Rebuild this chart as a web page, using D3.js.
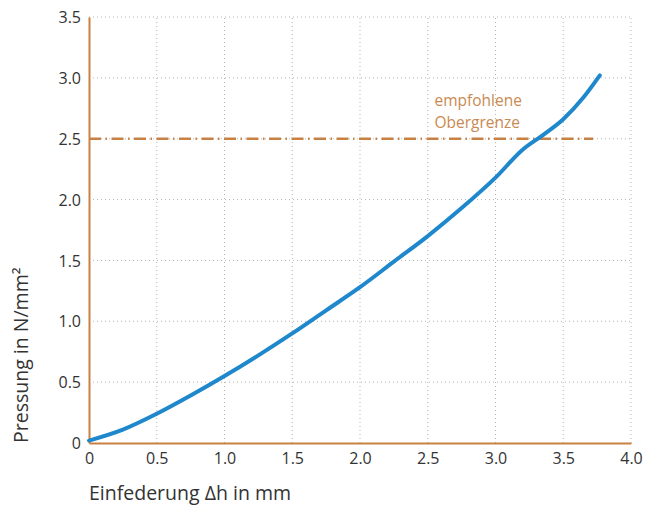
<!DOCTYPE html>
<html>
<head>
<meta charset="utf-8">
<script src="https://cdn.jsdelivr.net/npm/d3@7"></script>
<style>
  body { margin: 0; background: #fff; }
  svg { font-family: "Open Sans", "Noto Sans", sans-serif; }
</style>
</head>
<body>
<div id="chart"></div>
<script>
// Curve readings (Einfederung in mm, Pressung in N/mm²)
const deflection = [0, 0.25, 0.5, 0.75, 1.0, 1.25, 1.5, 1.75, 2.0, 2.25, 2.5, 2.75, 3.0, 3.2, 3.35, 3.5, 3.65, 3.77];
const pressure   = [0.02, 0.11, 0.24, 0.39, 0.55, 0.72, 0.90, 1.09, 1.28, 1.49, 1.70, 1.93, 2.18, 2.41, 2.53, 2.66, 2.84, 3.02];
const xTicks = [0, 0.5, 1.0, 1.5, 2.0, 2.5, 3.0, 3.5, 4.0];
const yTicks = [0, 0.5, 1.0, 1.5, 2.0, 2.5, 3.0, 3.5];
const limit = 2.5;
const limitEnd = 3.72;

const width = 646, height = 509;
const margin = { left: 89, right: 15, top: 17, bottom: 66 };
const orange = '#c98143';

const svg = d3.select('#chart').append('svg')
    .attr('width', width)
    .attr('height', height);

const x = d3.scaleLinear().domain([0, 4]).range([margin.left, width - margin.right]);
const y = d3.scaleLinear().domain([0, 3.5]).range([height - margin.bottom, margin.top]);

// Dotted grid
const grid = svg.append('g').attr('stroke', '#b5b5b5').attr('stroke-width', 1)
    .attr('stroke-dasharray', '1,3');
grid.selectAll('.gx').data(xTicks.slice(1)).enter().append('line')
    .attr('x1', d => x(d)).attr('x2', d => x(d))
    .attr('y1', y(0)).attr('y2', y(3.5));
grid.selectAll('.gy').data(yTicks.slice(1)).enter().append('line')
    .attr('x1', x(0)).attr('x2', x(4))
    .attr('y1', d => y(d)).attr('y2', d => y(d));

// Recommended upper limit (dash-dot)
svg.append('line')
    .attr('x1', x(0)).attr('x2', x(limitEnd))
    .attr('y1', y(limit)).attr('y2', y(limit))
    .attr('stroke', orange).attr('stroke-width', 2.5)
    .attr('stroke-dasharray', '12,4.5,1.5,4.5');

svg.append('text')
    .attr('x', x(2.55)).attr('y', 106)
    .attr('fill', '#c98a52').style('font-size', '15.5px')
    .selectAll('tspan').data(['empfohlene', 'Obergrenze']).enter().append('tspan')
    .attr('x', x(2.55)).attr('dy', (d, i) => i ? 22 : 0)
    .text(d => d);

// Axes
const xAxis = svg.append('g').attr('transform', `translate(0,${y(0)})`)
    .call(d3.axisBottom(x).tickValues(xTicks).tickSize(0).tickPadding(10)
        .tickFormat(d => d === 0 ? '0' : d3.format('.1f')(d)));
const yAxis = svg.append('g').attr('transform', `translate(${x(0)},0)`)
    .call(d3.axisLeft(y).tickValues(yTicks).tickSize(0).tickPadding(8)
        .tickFormat(d => d === 0 ? '0' : d3.format('.1f')(d)));
[xAxis, yAxis].forEach(a => {
    a.select('.domain').attr('stroke', orange).attr('stroke-width', 2);
    a.selectAll('text').attr('fill', '#333').style('font-size', '16px')
        .style('font-family', '"Open Sans", "Noto Sans", sans-serif');
});
yAxis.selectAll('text').attr('dy', '0.35em');

// Curve
const pts = deflection.map((d, i) => [d, pressure[i]]);
svg.append('path')
    .datum(pts)
    .attr('fill', 'none')
    .attr('stroke', '#1f88cc')
    .attr('stroke-width', 4)
    .attr('stroke-linecap', 'round')
    .attr('d', d3.line().x(d => x(d[0])).y(d => y(d[1])).curve(d3.curveMonotoneX));

// Axis titles
svg.append('text')
    .attr('x', x(0)).attr('y', 500)
    .attr('fill', '#333').style('font-size', '19.5px')
    .text('Einfederung Δh in mm');
svg.append('text')
    .attr('transform', `translate(28,${y(0)}) rotate(-90)`)
    .attr('fill', '#333').style('font-size', '19.5px')
    .text('Pressung in N/mm²');
</script>
</body>
</html>
